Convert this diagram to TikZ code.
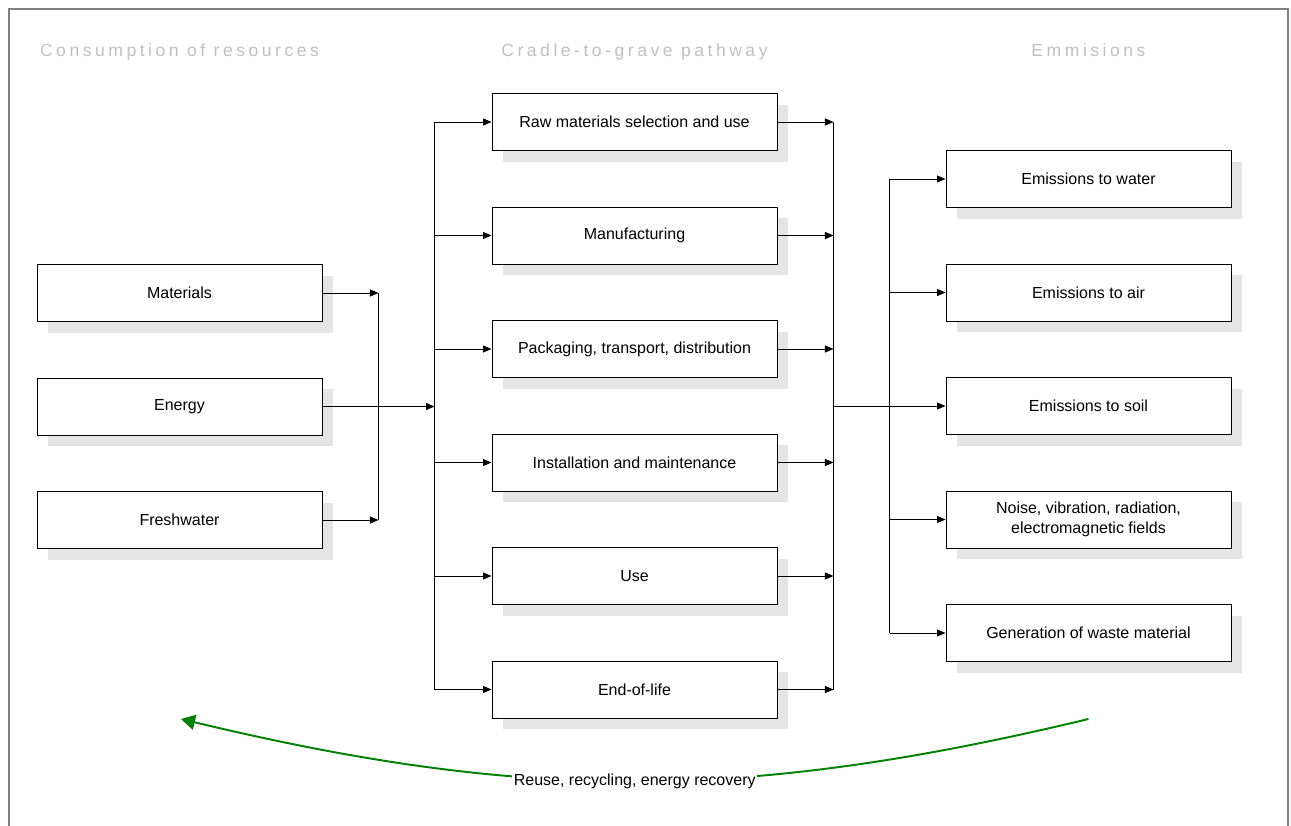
\documentclass[tikz,border=0pt]{standalone}
\usepackage{fontspec}
\setmainfont{Liberation Sans}
\newfontfamily\headfont[LetterSpace=20]{Liberation Sans}
\usetikzlibrary{positioning,arrows.meta,shadows}
\definecolor{headgray}{HTML}{C0C0C0}
\definecolor{framegray}{HTML}{7F7F7F}
\definecolor{loopgreen}{HTML}{008000}

\begin{document}
\begin{tikzpicture}[stage/.style={draw,line width=.55pt,minimum width=5.7cm,minimum height=1.14cm,inner sep=1mm,align=center,fill=white,font=\fontsize{9.1}{11}\selectfont,drop shadow={shadow xshift=.22cm,shadow yshift=-.22cm,fill=black!10,opacity=1}},
	heading/.style={anchor=base,text=headgray,font=\headfont\fontsize{10}{12}\selectfont},
	flow/.style={-{Triangle[length=1.7mm,width=1.4mm]},line width=.5pt},
	recycle/.style={-{Triangle[length=2.8mm,width=3mm]},loopgreen,line width=1.1pt},
	node distance=2.27cm]

	\useasboundingbox (0,0) rectangle (25.82,-16.5);
	\draw[framegray, line width=1pt] (0.18,-16.6) -- (0.18,-0.18) -- (25.76,-0.18) -- (25.76,-16.6);

	\node[heading] (hres) at (3.59,-1.12) {Consumption of resources};
	\node[heading] (hpath) at (12.69,-1.12) {Cradle-to-grave pathway};
	\node[heading] (hemis) at (21.77,-1.12) {Emmisions};

	\node[stage] (mat) at (3.59,-5.86) {Materials};
	\node[stage] (energy) [below of=mat] {Energy};
	\node[stage] (fresh) [below of=energy] {Freshwater};

	\node[stage] (raw) at (12.69,-2.44) {Raw materials selection and use};
	\node[stage] (manu) [below of=raw] {Manufacturing};
	\node[stage] (pack) [below of=manu] {Packaging, transport, distribution};
	\node[stage] (inst) [below of=pack] {Installation and maintenance};
	\node[stage] (use) [below of=inst] {Use};
	\node[stage] (eol) [below of=use] {End-of-life};

	\node[stage] (water) at (21.77,-3.58) {Emissions to water};
	\node[stage] (air) [below of=water] {Emissions to air};
	\node[stage] (soil) [below of=air] {Emissions to soil};
	\node[stage] (noise) [below of=soil] {Noise, vibration, radiation,\\electromagnetic fields};
	\node[stage] (waste) [below of=noise] {Generation of waste material};

	\coordinate[right=1.12cm of mat.east] (mattip);
	\coordinate[right=1.12cm of fresh.east] (freshtip);
	\coordinate[left=1.14cm of raw.west] (intop);
	\coordinate[left=1.14cm of eol.west] (inbot);
	\coordinate[right=1.12cm of raw.east] (outtop);
	\coordinate[right=1.12cm of eol.east] (outbot);
	\coordinate[left=1.12cm of water.west] (emtop);
	\coordinate[left=1.12cm of waste.west] (embot);

	\draw[flow] (mat) -- (mattip);
	\draw[flow] (fresh) -- (freshtip);
	\draw (mattip) -- (freshtip);
	\draw[flow] (energy) -- (energy -| intop);
	\draw (intop) -- (inbot);
	\foreach \n in {raw,manu,pack,inst,use,eol}
		\draw[flow] (\n.west -| intop) -- (\n);

	\foreach \n in {raw,manu,pack,inst,use,eol}
		\draw[flow] (\n) -- (\n.east -| outtop);
	\draw (outtop) -- (outbot);
	\draw[flow] (soil.west -| outtop) -- (soil);
	\draw (emtop) -- (embot);
	\foreach \n in {water,air,noise,waste}
		\draw[flow] (\n.west -| emtop) -- (\n);

	\coordinate (loopstart) at (21.77,-14.38);
	\coordinate (loopend) at (3.62,-14.38);
	\draw[recycle] (loopstart) to[bend left=13.5] node[fill=white,text=black,inner sep=1pt,font=\fontsize{9.1}{11}\selectfont] (looptext) {Reuse, recycling, energy recovery} (loopend);

\end{tikzpicture}
\end{document}
